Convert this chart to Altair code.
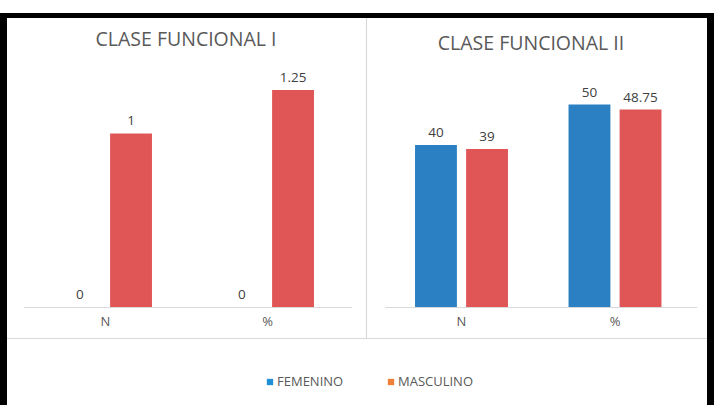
import altair as alt
import pandas as pd

# Valores por clase funcional y sexo
categorias = ["N", "%"]
sexos = ["FEMENINO", "MASCULINO"]
femenino_I = [0, 0]
masculino_I = [1, 1.25]
femenino_II = [40, 50]
masculino_II = [39, 48.75]

FONT = "Open Sans"
AZUL = "#2A80C2"
ROJO = "#E05656"
GRIS_LINEA = "#D9D9D9"


def tabla(fem, masc):
    filas = []
    for i, c in enumerate(categorias):
        filas.append({"cat": c, "sexo": sexos[0], "valor": fem[i]})
        filas.append({"cat": c, "sexo": sexos[1], "valor": masc[i]})
    return pd.DataFrame(filas)


df_I = tabla(femenino_I, masculino_I)
df_II = tabla(femenino_II, masculino_II)
df_cat = pd.DataFrame({"cat": categorias})
df_leyenda = pd.DataFrame({"grupo": sexos})


def panel(df, x_range, y_max, pad_outer):
    x = alt.X("cat:N", sort=categorias, axis=None,
              scale=alt.Scale(range=x_range, paddingInner=0, paddingOuter=0))
    xo = alt.XOffset("sexo:N", sort=sexos,
                     scale=alt.Scale(paddingInner=0.18, paddingOuter=pad_outer))
    y = alt.Y("valor:Q", axis=None,
              scale=alt.Scale(domain=[0, y_max], range=[307, 64], nice=False))
    base = alt.Chart(df)
    barras = base.mark_bar().encode(
        x=x, xOffset=xo, y=y,
        fill=alt.Fill("sexo:N", sort=sexos,
                      scale=alt.Scale(domain=sexos, range=[AZUL, ROJO]),
                      legend=None),
    )
    etiquetas = base.mark_text(
        font=FONT, fontSize=13.5, color="#404040", baseline="bottom", dy=-5
    ).encode(x=x, xOffset=xo, y=y, text=alt.Text("valor:Q"))
    eje = alt.Chart(df_cat).mark_text(
        font=FONT, fontSize=13, color="#595959", baseline="middle"
    ).encode(x=x, y=alt.value(322), text="cat:N")
    return alt.layer(barras, etiquetas, eje)


izq = panel(df_I, [24.5, 348.5], 1.4, 0.676)
der = panel(df_II, [384.75, 691.75], 60, 0.593)

marco = alt.Chart(pd.DataFrame({"k": [0]}))

# Líneas base de cada panel
base_I = marco.mark_rule(color=GRIS_LINEA, strokeWidth=1).encode(
    x=alt.value(24), x2=alt.value(352), y=alt.value(307.5))
base_II = marco.mark_rule(color=GRIS_LINEA, strokeWidth=1).encode(
    x=alt.value(385), x2=alt.value(697), y=alt.value(307.5))
# Separadores entre paneles
sep_v = marco.mark_rule(color=GRIS_LINEA, strokeWidth=1.2).encode(
    x=alt.value(366.5), y=alt.value(18), y2=alt.value(338))
sep_h = marco.mark_rule(color=GRIS_LINEA, strokeWidth=1.2).encode(
    x=alt.value(7), x2=alt.value(707), y=alt.value(338.5))
# Marco negro exterior
borde_sup = marco.mark_rule(color="black", strokeWidth=5).encode(
    x=alt.value(0), x2=alt.value(714), y=alt.value(15.5))
borde_izq = marco.mark_rule(color="black", strokeWidth=7).encode(
    x=alt.value(3.5), y=alt.value(13), y2=alt.value(405))
borde_der = marco.mark_rule(color="black", strokeWidth=7).encode(
    x=alt.value(710.5), y=alt.value(13), y2=alt.value(405))

titulo_I = marco.mark_text(font=FONT, fontSize=19.5, color="#595959").encode(
    x=alt.value(186), y=alt.value(40), text=alt.value("CLASE FUNCIONAL I"))
titulo_II = marco.mark_text(font=FONT, fontSize=19.5, color="#595959").encode(
    x=alt.value(531), y=alt.value(44), text=alt.value("CLASE FUNCIONAL II"))

# Leyenda: símbolo cuadrado + etiqueta para cada grupo
x_ley = alt.X("grupo:N", sort=sexos, axis=None,
              scale=alt.Scale(type="point", domain=sexos, range=[270, 391],
                              padding=0))
ley_base = alt.Chart(df_leyenda)
ley_simbolos = ley_base.mark_square(size=40, opacity=1).encode(
    x=x_ley, y=alt.value(382),
    color=alt.Color("grupo:N", sort=sexos, legend=None,
                    scale=alt.Scale(domain=sexos, range=["#1F8FD6", "#F07F3A"])),
)
ley_textos = ley_base.mark_text(
    font=FONT, fontSize=13, color="#595959", align="left", baseline="middle", dx=7
).encode(x=x_ley, y=alt.value(382), text="grupo:N")
leyenda = alt.layer(ley_simbolos, ley_textos)

chart = alt.layer(
    izq, der, base_I, base_II, sep_v, sep_h,
    borde_sup, borde_izq, borde_der, titulo_I, titulo_II, leyenda,
).resolve_scale(
    x="independent", y="independent", xOffset="independent"
).properties(
    width=714, height=405, padding=0,
    autosize=alt.AutoSizeParams(type="none"),
    background="white",
).configure_view(stroke=None)

chart.save("out.html", embed_options={"renderer": "svg", "actions": False})
